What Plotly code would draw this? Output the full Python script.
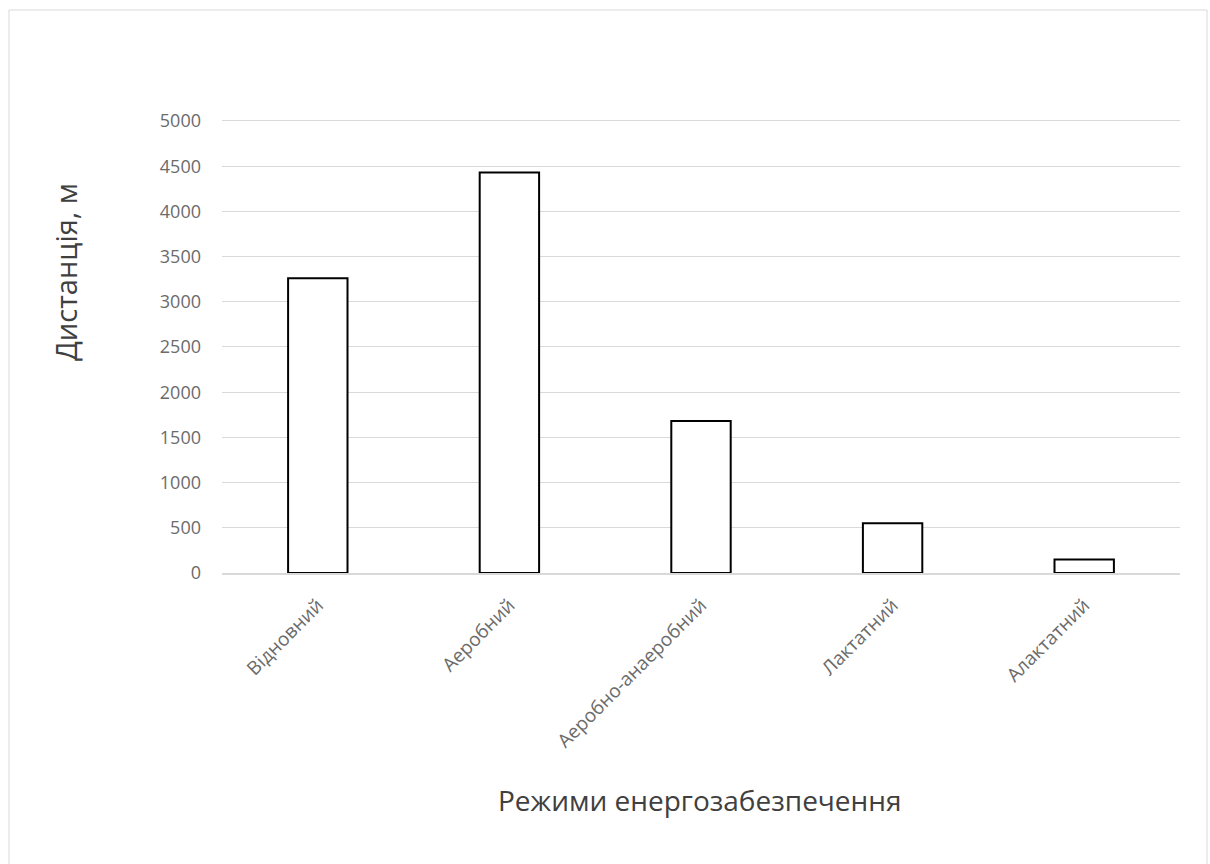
import plotly.graph_objects as go

categories = ["Відновний", "Аеробний", "Аеробно-анаеробний", "Лактатний", "Алактатний"]
values = [3260, 4430, 1680, 550, 150]
y_ticks = [0, 500, 1000, 1500, 2000, 2500, 3000, 3500, 4000, 4500, 5000]

L, R, T, B = 222, 30, 119, 291
W, H = 1210, 864
pw = W - L - R
ph = H - T - B

fig = go.Figure()
fig.add_trace(go.Bar(
    x=categories, y=values,
    marker=dict(color="white", line=dict(color="black", width=2)),
    width=0.31,
))

fig.update_layout(
    width=W, height=H,
    margin=dict(l=L, r=R, t=T, b=B),
    paper_bgcolor="white", plot_bgcolor="white",
    showlegend=False,
    font=dict(family="Open Sans, DejaVu Sans, sans-serif", color="#6b6b6b", size=17),
    xaxis=dict(
        tickangle=-45, showgrid=False, showline=True, linecolor="#d9d9d9", linewidth=1.5,
        layer="above traces", ticks="", ticklabelstandoff=12,
        tickfont=dict(size=19, color="#6b6b6b"),
    ),
    yaxis=dict(
        range=[0, 5022], tickvals=y_ticks, showgrid=True, gridcolor="#d9d9d9",
        zeroline=False, showline=False, ticks="", ticklabelstandoff=20,
        tickfont=dict(size=18, color="#6b6b6b"),
    ),
    shapes=[dict(
        type="rect", xref="paper", yref="paper",
        x0=(9 - L) / pw, x1=(1207 - L) / pw,
        y0=(T + ph - 880) / ph, y1=(T + ph - 10) / ph,
        line=dict(color="#d9d9d9", width=1), fillcolor="rgba(0,0,0,0)", layer="below",
    )],
    annotations=[
        dict(text="Дистанція, м", textangle=-90, xref="paper", yref="paper",
             x=(65 - L) / pw, y=(T + ph - 272) / ph, showarrow=False,
             font=dict(size=29, color="#404040"), xanchor="center", yanchor="middle"),
        dict(text="Режими енергозабезпечення", xref="paper", yref="paper",
             x=(700 - L) / pw, y=(T + ph - 800) / ph, showarrow=False,
             font=dict(size=28, color="#404040"), xanchor="center", yanchor="middle"),
    ],
)

fig.write_html("out.html")
